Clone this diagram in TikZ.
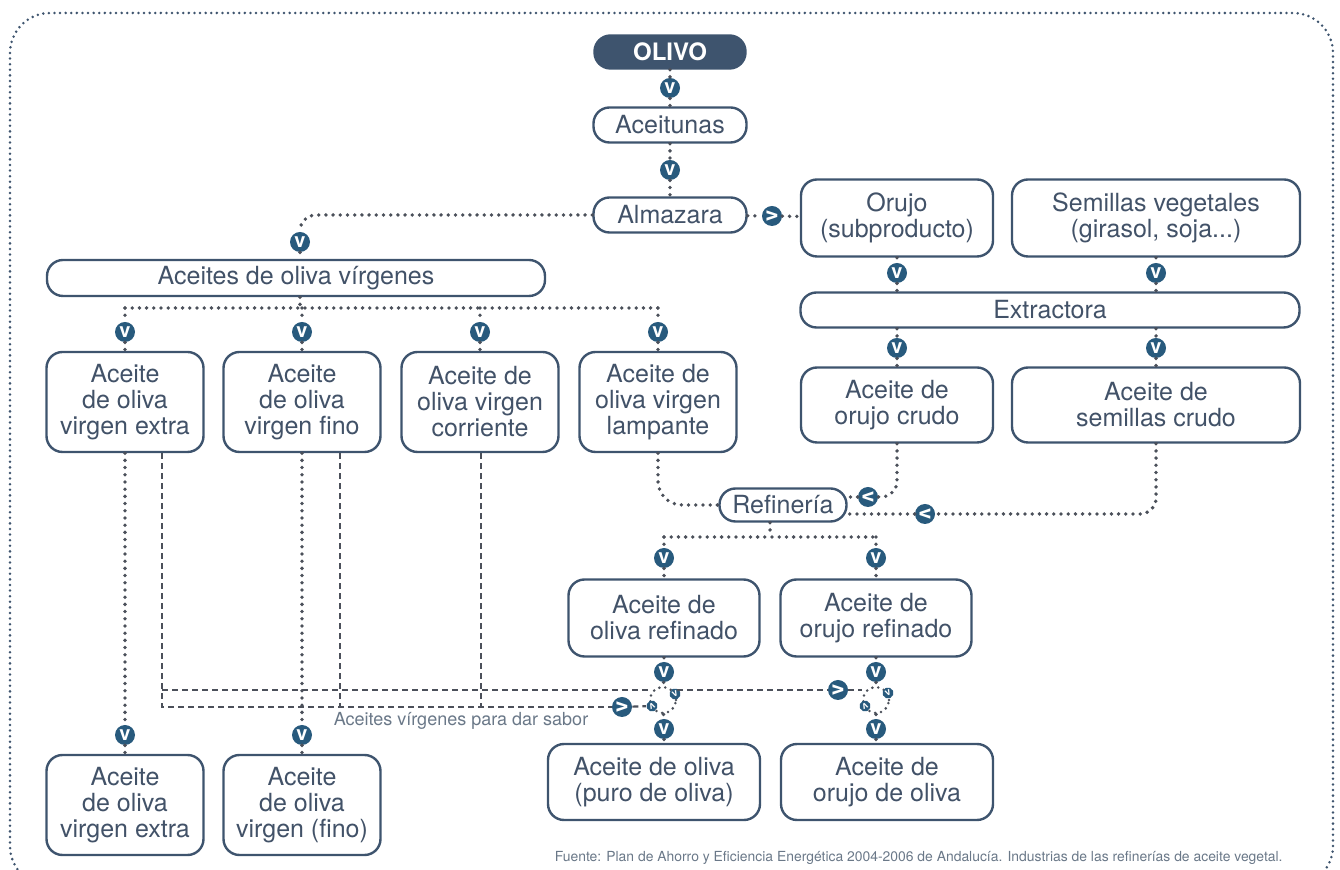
\documentclass[tikz,border=0pt]{standalone}
\usepackage{fontspec}
\setmainfont{TeX Gyre Heros}
\usetikzlibrary{calc}
\definecolor{boxline}{HTML}{3E546E}
\definecolor{boxtext}{HTML}{425268}
\definecolor{markfill}{HTML}{285A7D}
\definecolor{dotgray}{HTML}{4B505A}
\definecolor{notegray}{HTML}{6A7888}
\tikzset{
  procbox/.style={draw=boxline,line width=1.2pt,rounded corners=8pt,fill=white,
    text=boxtext,font=\fontsize{12.5}{13}\selectfont,align=center,inner sep=0pt},
  pillbox/.style={procbox,minimum height=17.5pt},
  tallbox/.style={procbox,minimum width=78.5pt,minimum height=50pt},
  topbox/.style={procbox,fill=boxline,text=white,
    font=\bfseries\fontsize{12}{13}\selectfont},
  flowdot/.style={circle,fill=markfill,text=white,inner sep=0pt,minimum size=10pt,
    font=\bfseries\fontsize{10}{10}\selectfont},
  ringdot/.style={circle,fill=markfill,text=white,inner sep=0pt,minimum size=5.5pt,
    font=\bfseries\fontsize{5}{5}\selectfont},
  mixring/.style={circle,draw=dotgray,line width=1.4pt,dash pattern=on 0pt off 3pt,
    line cap=round,minimum size=13pt,inner sep=0pt},
  dotline/.style={draw=dotgray,line width=1.9pt,dash pattern=on 0pt off 3.6pt,line cap=round},
  dashline/.style={draw=dotgray,line width=1.1pt,dash pattern=on 3pt off 2pt},
  framedots/.style={draw=boxline,line width=1.4pt,dash pattern=on 0pt off 2.8pt,line cap=round},
  notelbl/.style={text=notegray,inner sep=0pt},
}
\begin{document}
\begin{tikzpicture}[x=0.5pt,y=-0.5pt]
  \useasboundingbox (0,0) rectangle (1340,870);
  \clip (0,0) rectangle (1340,870);
  \draw[framedots,rounded corners=20pt] (10,13) rectangle (1333,886);

  % boxes
  \node[topbox,minimum width=75.5pt,minimum height=16.5pt] (olivo) at (670,52) {OLIVO};
  \node[pillbox,minimum width=76.5pt] (aceitunas) at (670,125) {Aceitunas};
  \node[pillbox,minimum width=76.5pt] (almazara) at (670,215) {Almazara};
  \node[procbox,minimum width=96pt,minimum height=38.5pt] (orujo) at (897,218) {Orujo\\(subproducto)};
  \node[procbox,minimum width=144pt,minimum height=38.5pt] (semillas) at (1156,218) {Semillas vegetales\\(girasol, soja...)};
  \node[pillbox,minimum width=249pt,minimum height=18pt] (virgenes) at (296,278) {Aceites de oliva vírgenes};
  \node[pillbox,minimum width=249.5pt] (extractora) at (1050,310) {Extractora};
  \node[tallbox] (extra) at (125,402) {Aceite\\de oliva\\virgen extra};
  \node[tallbox] (fino) at (302,402) {Aceite\\de oliva\\virgen fino};
  \node[tallbox] (corriente) at (480,402) {Aceite de\\oliva virgen\\corriente};
  \node[tallbox] (lampante) at (658,402) {Aceite de\\oliva virgen\\lampante};
  \node[procbox,minimum width=96pt,minimum height=37.5pt] (orujocrudo) at (897,405) {Aceite de\\orujo crudo};
  \node[procbox,minimum width=144pt,minimum height=37.5pt] (semcrudo) at (1156,405) {Aceite de\\semillas crudo};
  \node[pillbox,minimum width=63.5pt,minimum height=16.5pt] (refineria) at (783,505) {Refinería};
  \node[procbox,minimum width=95.5pt,minimum height=38.5pt] (olivaref) at (664,618) {Aceite de\\oliva refinado};
  \node[procbox,minimum width=95.5pt,minimum height=38.5pt] (orujoref) at (876,618) {Aceite de\\orujo refinado};
  \node[procbox,minimum width=106pt,minimum height=38pt] (puro) at (654,782) {Aceite de oliva\\(puro de oliva)};
  \node[procbox,minimum width=106pt,minimum height=38pt] (orujooliva) at (887,782) {Aceite de\\orujo de oliva};
  \node[tallbox] (extrafin) at (125,805) {Aceite\\de oliva\\virgen extra};
  \node[tallbox] (finofin) at (302,805) {Aceite\\de oliva\\virgen (fino)};

  % flow markers
  \node[flowdot] (m1) at (670,88) {v};
  \node[flowdot] (m2) at (670,170) {v};
  \node[flowdot,rotate=90] (m3) at (772,216) {v};
  \node[flowdot] (m4) at (300,242) {v};
  \foreach \n/\x in {5/125,6/302,7/480,8/658}
    \node[flowdot] (m\n) at (\x,332) {v};
  \node[flowdot] (m9) at (897,273) {v};
  \node[flowdot] (m10) at (1156,273) {v};
  \node[flowdot] (m11) at (897,348) {v};
  \node[flowdot] (m12) at (1156,348) {v};
  \node[flowdot,rotate=-90] (m13) at (868,497) {v};
  \node[flowdot,rotate=-90] (m14) at (925,514) {v};
  \node[flowdot] (m15) at (664,558) {v};
  \node[flowdot] (m16) at (876,558) {v};
  \node[flowdot] (m17) at (664,672) {v};
  \node[flowdot] (m18) at (876,672) {v};
  \node[flowdot] (m19) at (664,729) {v};
  \node[flowdot] (m20) at (876,729) {v};
  \node[flowdot] (m21) at (125,735) {v};
  \node[flowdot] (m22) at (302,735) {v};
  \node[flowdot,rotate=90] (m23) at (622,707) {v};
  \node[flowdot,rotate=90] (m24) at (838,690) {v};

  % mixing rings
  \node[mixring] (mix1) at (663,700) {};
  \node[mixring] (mix2) at (876,700) {};
  \node[ringdot,rotate=25] (r1a) at (675,694) {v};
  \node[ringdot,rotate=205] (r1b) at (652,706) {v};
  \node[ringdot,rotate=25] (r2a) at (888,693) {v};
  \node[ringdot,rotate=205] (r2b) at (865,706) {v};

  \coordinate (vsplit) at (300,308);
  \coordinate (rsplit) at (770,537);
  \coordinate (sabA) at (162,707);
  \coordinate (sabB) at (340,707);
  \coordinate (sabC) at (481,707);
  \coordinate (sabTop) at (162,690);

  % dotted connectors
  \draw[dotline] (olivo) -- (m1) -- (aceitunas);
  \draw[dotline] (aceitunas) -- (m2) -- (almazara);
  \draw[dotline] (almazara) -- (m3) -- (orujo);
  \draw[dotline,rounded corners=8pt] (almazara.west) -| (m4);
  \draw[dotline] (m4) -- (virgenes.north -| m4);
  \draw[dotline] (virgenes.south -| vsplit) -- (vsplit);
  \draw[dotline] (m5 |- vsplit) -- (m8 |- vsplit);
  \foreach \m/\b in {m5/extra,m6/fino,m7/corriente,m8/lampante}
    \draw[dotline] (\m |- vsplit) -- (\m) -- (\b);
  \draw[dotline] (orujo) -- (m9) -- (m9 |- extractora.north);
  \draw[dotline] (semillas) -- (m10) -- (m10 |- extractora.north);
  \draw[dotline] (extractora.south -| m11) -- (m11) -- (orujocrudo);
  \draw[dotline] (extractora.south -| m12) -- (m12) -- (semcrudo);
  \draw[dotline,rounded corners=12pt] (lampante.south) |- (refineria.west);
  \draw[dotline,rounded corners=8pt] (orujocrudo.south) |- (m13);
  \draw[dotline] (m13) -- (m13 -| refineria.east);
  \draw[dotline,rounded corners=8pt] (semcrudo.south) |- (m14);
  \draw[dotline] (m14) -- (m14 -| refineria.east);
  \draw[dotline] (refineria.south -| rsplit) -- (rsplit);
  \draw[dotline] (m15 |- rsplit) -- (m16 |- rsplit);
  \foreach \m/\b in {m15/olivaref,m16/orujoref}
    \draw[dotline] (\m |- rsplit) -- (\m) -- (\b);
  \draw[dotline] (olivaref) -- (m17) -- (mix1) -- (m19) -- (m19 |- puro.north);
  \draw[dotline] (orujoref) -- (m18) -- (mix2) -- (m20) -- (m20 |- orujooliva.north);
  \draw[dotline] (extra) -- (m21) -- (extrafin);
  \draw[dotline] (fino) -- (m22) -- (finofin);

  % virgin oils for flavour
  \draw[dashline] (extra.south -| sabA) -- (sabA) -- (m23);
  \draw[dashline] (m23) -- (r1b);
  \draw[dashline] (fino.south -| sabB) -- (sabB);
  \draw[dashline] (corriente.south -| sabC) -- (sabC);
  \draw[dashline] (sabTop) -- (sabTop -| mix1.west);
  \draw[dashline] (sabTop -| mix1.east) -- (m24) -- (m24 -| mix2.west);
  \node[notelbl,font=\fontsize{9}{10}\selectfont] (sabor) at (461,721) {Aceites vírgenes para dar sabor};

  \node[notelbl,font=\fontsize{6.95}{8}\selectfont,anchor=east] (fuente) at (1283,858)
    {Fuente: Plan de Ahorro y Eficiencia Energética 2004-2006 de Andalucía. Industrias de las refinerías de aceite vegetal.};
\end{tikzpicture}
\end{document}
